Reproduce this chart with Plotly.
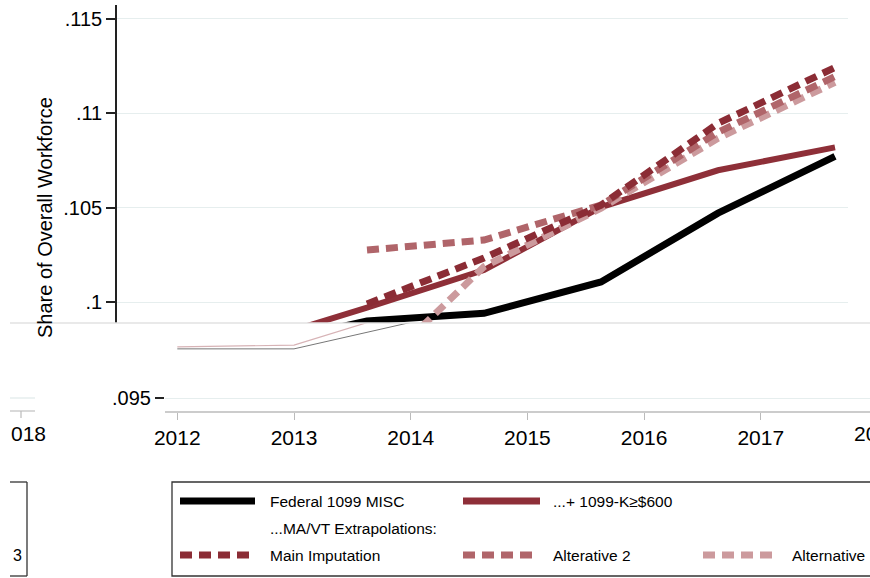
import plotly.graph_objects as go

# ---------------- data ----------------
years = [2012, 2013, 2014, 2015, 2016, 2017, 2018]
federal_1099_misc = [0.0976, 0.0976, 0.0990, 0.09940, 0.10106, 0.10470, 0.10770]
plus_1099k_600 = [0.0977, 0.0978, 0.0997, 0.10169, 0.10502, 0.10697, 0.10818]

ext_years = [2014, 2015, 2016, 2017, 2018]
main_imputation = [0.0999, 0.10233, 0.10512, 0.10945, 0.11241]
alterative_2 = [0.10275, 0.10328, 0.10513, 0.10898, 0.11193]
alternative = [0.0959, 0.10187, 0.10496, 0.10866, 0.11162]

y_ticks = [0.1, 0.105, 0.11, 0.115]
y_tick_text = [".1", ".105", ".11", ".115"]
x_ticks = [2012, 2013, 2014, 2015, 2016, 2017]
x_tick_text = ["2012", "2013", "2014", "2015", "2016", "2017"]

# ---------------- styles ----------------
W, H = 870, 578
FONT = "Liberation Sans, Arial, Helvetica, sans-serif"
C_BLACK = "#000000"
C_RED = "#8e2f38"
C_MAIN = "#8b2c35"
C_ALT2 = "#b0656a"
C_ALT = "#cc9a9d"
GRID = "#e6eeee"
DASH = "12px,7px"


def px(x):
    return x / W


def py(y):
    return 1 - y / H


fig = go.Figure()

# main panel traces
fig.add_trace(go.Scatter(x=years, y=federal_1099_misc, mode="lines",
                         line=dict(color=C_BLACK, width=7), name="Federal 1099 MISC",
                         xaxis="x", yaxis="y", showlegend=False))
fig.add_trace(go.Scatter(x=years, y=plus_1099k_600, mode="lines",
                         line=dict(color=C_RED, width=6), name="...+ 1099-K≥$600",
                         xaxis="x", yaxis="y", showlegend=False))
fig.add_trace(go.Scatter(x=ext_years, y=alternative, mode="lines",
                         line=dict(color=C_ALT, width=7, dash=DASH), name="Alternative",
                         xaxis="x", yaxis="y", showlegend=False))
fig.add_trace(go.Scatter(x=ext_years, y=alterative_2, mode="lines",
                         line=dict(color=C_ALT2, width=7, dash=DASH), name="Alterative 2",
                         xaxis="x", yaxis="y", showlegend=False))
fig.add_trace(go.Scatter(x=ext_years, y=main_imputation, mode="lines",
                         line=dict(color=C_MAIN, width=7, dash=DASH), name="Main Imputation",
                         xaxis="x", yaxis="y", showlegend=False))

# lower (shifted) panel: faint thin copies
fig.add_trace(go.Scatter(x=years, y=plus_1099k_600, mode="lines",
                         line=dict(color="#d7b3b6", width=1.2),
                         xaxis="x2", yaxis="y2", showlegend=False, hoverinfo="skip"))
fig.add_trace(go.Scatter(x=years, y=federal_1099_misc, mode="lines",
                         line=dict(color="#777777", width=1),
                         xaxis="x2", yaxis="y2", showlegend=False, hoverinfo="skip"))

# ---------------- axes ----------------
s = 0.005 / 94.5  # value per pixel
fig.update_layout(
    width=W, height=H,
    margin=dict(l=0, r=0, t=0, b=0, pad=0, autoexpand=False),
    paper_bgcolor="white", plot_bgcolor="white",
    font=dict(family=FONT, color="black"),
    showlegend=False,
    xaxis=dict(domain=[px(117), px(848)],
               range=[2012 + (117 - 133) / 117, 2012 + (848 - 133) / 117],
               showticklabels=False, showgrid=False, zeroline=False, showline=False,
               ticks="", automargin=False),
    yaxis=dict(domain=[py(323), py(5)],
               range=[0.1 - 21 * s, 0.1 + 297 * s],
               tickvals=y_ticks, ticktext=y_tick_text,
               ticks="outside", ticklen=9, tickwidth=1.5, tickcolor="#222",
               showline=True, linecolor="#222", linewidth=1.5,
               showgrid=True, gridcolor=GRID, gridwidth=1.2, zeroline=False,
               tickfont=dict(size=20, family=FONT), automargin=False),
    xaxis2=dict(domain=[px(165), 1],
                range=[2012 - 12.3 / 116.7, 2012 + 692.7 / 116.7],
                anchor="y2",
                tickvals=x_ticks, ticktext=x_tick_text,
                ticks="outside", ticklen=7, tickwidth=1.2, tickcolor="#bbbbbb",
                showline=True, linecolor="#cccccc", linewidth=1.5,
                showgrid=False, zeroline=False,
                tickfont=dict(size=21, family=FONT), automargin=False),
    yaxis2=dict(domain=[py(411), py(323)],
                range=[0.095 - 13 * s, 0.095 + 75 * s],
                anchor="x2",
                tickvals=[0.095], ticktext=[".095"],
                ticks="outside", ticklen=9, tickwidth=1.5, tickcolor="#222",
                showline=False, showgrid=True, gridcolor=GRID, gridwidth=1.2,
                zeroline=False, tickfont=dict(size=20, family=FONT), automargin=False),
)

shapes = []
annotations = []

# glitch boundary line
shapes.append(dict(type="line", xref="paper", yref="paper",
                   x0=px(10), x1=1, y0=py(323), y1=py(323),
                   line=dict(color="#e2e2e2", width=1.5)))
# small fragments at far left
shapes.append(dict(type="line", xref="paper", yref="paper",
                   x0=px(10), x1=px(35), y0=py(398), y1=py(398),
                   line=dict(color=GRID, width=1.5)))
shapes.append(dict(type="line", xref="paper", yref="paper",
                   x0=px(10), x1=px(35), y0=py(411), y1=py(411),
                   line=dict(color="#cccccc", width=1.5)))
shapes.append(dict(type="line", xref="paper", yref="paper",
                   x0=px(21), x1=px(21), y0=py(411), y1=py(418),
                   line=dict(color="#bbbbbb", width=1.2)))

annotations.append(dict(text="2018", xref="paper", yref="paper", x=px(877.5), y=py(433),
                        showarrow=False, xanchor="center", yanchor="middle",
                        font=dict(size=21, family=FONT)))
annotations.append(dict(text="018", xref="paper", yref="paper", x=px(28), y=py(433),
                        showarrow=False, xanchor="center", yanchor="middle",
                        font=dict(size=21, family=FONT)))

# y title
annotations.append(dict(text="Share of Overall Workforce", xref="paper", yref="paper",
                        x=px(45), y=py(218), showarrow=False, textangle=-90,
                        xanchor="center", yanchor="middle",
                        font=dict(size=20, family=FONT)))

# ---------------- legend (drawn) ----------------
BOX = "#333333"
shapes.append(dict(type="rect", xref="paper", yref="paper",
                   x0=px(172), x1=px(880), y0=py(576), y1=py(482),
                   line=dict(color=BOX, width=1.3), fillcolor="rgba(0,0,0,0)"))
# left partial box
for (x0, y0, x1, y1) in [(10, 482, 27, 482), (27, 482, 27, 576), (10, 576, 27, 576)]:
    shapes.append(dict(type="line", xref="paper", yref="paper",
                       x0=px(x0), x1=px(x1), y0=py(y0), y1=py(y1),
                       line=dict(color=BOX, width=1.3)))
annotations.append(dict(text="3", xref="paper", yref="paper", x=px(17), y=py(555),
                        showarrow=False, xanchor="center", yanchor="middle",
                        font=dict(size=16, family=FONT)))

legend_items = [
    ("Federal 1099 MISC", C_BLACK, None, 180, 255, 268, 501),
    ("...+ 1099-K≥$600", C_RED, None, 463, 540, 551, 501),
    ("Main Imputation", C_MAIN, DASH, 180, 250, 268, 555),
    ("Alterative 2", C_ALT2, DASH, 463, 533, 551, 555),
    ("Alternative", C_ALT, DASH, 703, 773, 790, 555),
]
for name, col, dash, sx0, sx1, tx, ry in legend_items:
    ln = dict(color=col, width=7)
    if dash:
        ln["dash"] = dash
    shapes.append(dict(type="line", xref="paper", yref="paper",
                       x0=px(sx0), x1=px(sx1), y0=py(ry), y1=py(ry), line=ln))
    annotations.append(dict(text=name, xref="paper", yref="paper", x=px(tx), y=py(ry),
                            showarrow=False, xanchor="left", yanchor="middle",
                            font=dict(size=15.5, family=FONT)))
annotations.append(dict(text="...MA/VT Extrapolations:", xref="paper", yref="paper",
                        x=px(268), y=py(528), showarrow=False, xanchor="left",
                        yanchor="middle", font=dict(size=15.5, family=FONT)))

fig.update_layout(shapes=shapes, annotations=annotations)
fig.write_html("out.html", config={"displayModeBar": False},
               post_script="document.body.style.margin='0';document.body.style.padding='0';")
